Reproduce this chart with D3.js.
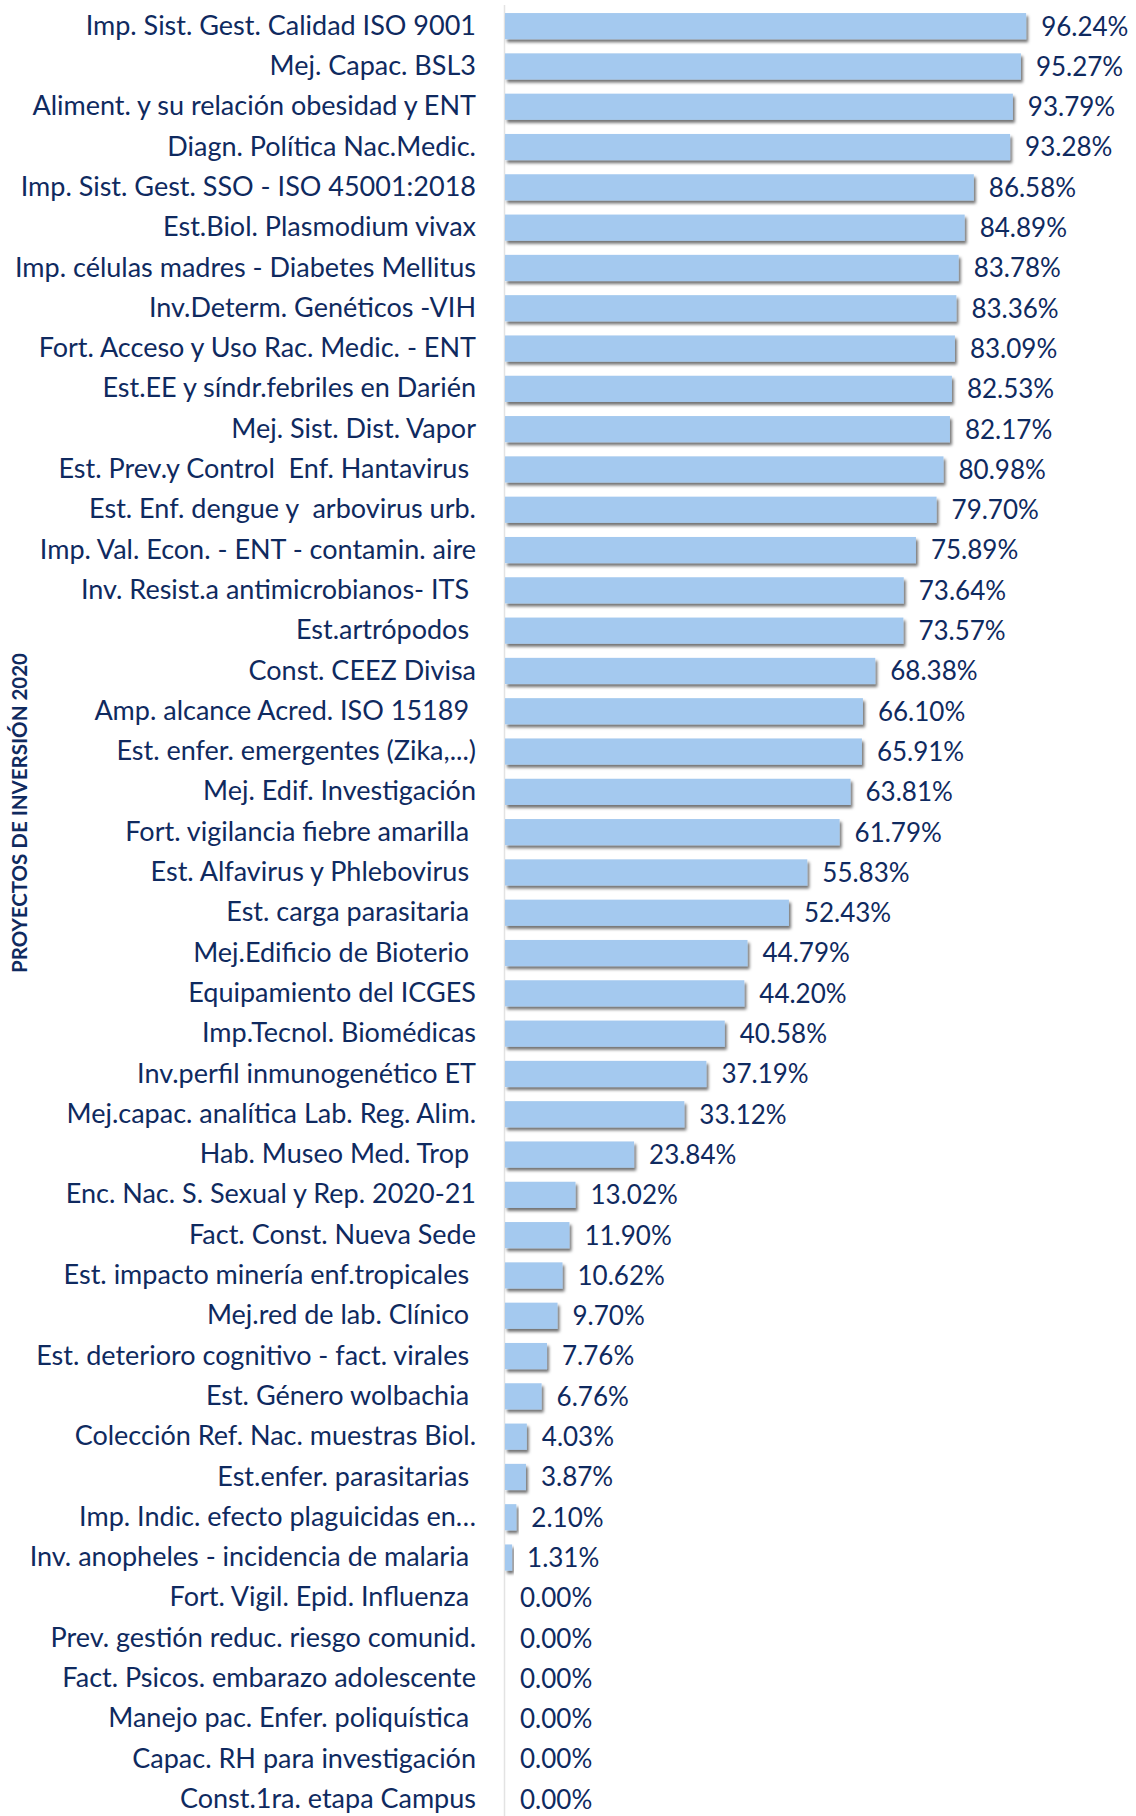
<!DOCTYPE html>
<html>
<head>
<meta charset="utf-8">
<script src="https://cdn.jsdelivr.net/npm/d3@7"></script>
<style>
  body { margin: 0; background: #fff; }
  text { font-family: Lato, "Open Sans", sans-serif; white-space: pre; }
</style>
</head>
<body>
<svg id="chart" width="1136" height="1816"></svg>
<script>
// project names (top to bottom), trailing spaces kept as in the source
const projects = [
  "Imp. Sist. Gest. Calidad ISO 9001",
  "Mej. Capac. BSL3",
  "Aliment. y su relación obesidad y ENT",
  "Diagn. Política Nac.Medic.",
  "Imp. Sist. Gest. SSO - ISO 45001:2018",
  "Est.Biol. Plasmodium vivax",
  "Imp. células madres - Diabetes Mellitus",
  "Inv.Determ. Genéticos -VIH",
  "Fort. Acceso y Uso Rac. Medic. - ENT",
  "Est.EE y síndr.febriles en Darién",
  "Mej. Sist. Dist. Vapor",
  "Est. Prev.y Control  Enf. Hantavirus ",
  "Est. Enf. dengue y  arbovirus urb.",
  "Imp. Val. Econ. - ENT - contamin. aire",
  "Inv. Resist.a antimicrobianos- ITS ",
  "Est.artrópodos ",
  "Const. CEEZ Divisa",
  "Amp. alcance Acred. ISO 15189 ",
  "Est. enfer. emergentes (Zika,...)",
  "Mej. Edif. Investigación",
  "Fort. vigilancia fiebre amarilla ",
  "Est. Alfavirus y Phlebovirus ",
  "Est. carga parasitaria ",
  "Mej.Edificio de Bioterio ",
  "Equipamiento del ICGES",
  "Imp.Tecnol. Biomédicas",
  "Inv.perfil inmunogenético ET",
  "Mej.capac. analítica Lab. Reg. Alim.",
  "Hab. Museo Med. Trop ",
  "Enc. Nac. S. Sexual y Rep. 2020-21",
  "Fact. Const. Nueva Sede",
  "Est. impacto minería enf.tropicales ",
  "Mej.red de lab. Clínico ",
  "Est. deterioro cognitivo - fact. virales ",
  "Est. Género wolbachia ",
  "Colección Ref. Nac. muestras Biol.",
  "Est.enfer. parasitarias ",
  "Imp. Indic. efecto plaguicidas en…",
  "Inv. anopheles - incidencia de malaria ",
  "Fort. Vigil. Epid. Influenza ",
  "Prev. gestión reduc. riesgo comunid.",
  "Fact. Psicos. embarazo adolescente",
  "Manejo pac. Enfer. poliquística ",
  "Capac. RH para investigación",
  "Const.1ra. etapa Campus"
];

// execution percentage
const execution = [
  96.24, 95.27, 93.79, 93.28, 86.58, 84.89, 83.78, 83.36, 83.09, 82.53,
  82.17, 80.98, 79.70, 75.89, 73.64, 73.57, 68.38, 66.10, 65.91, 63.81,
  61.79, 55.83, 52.43, 44.79, 44.20, 40.58, 37.19, 33.12, 23.84, 13.02,
  11.90, 10.62, 9.70, 7.76, 6.76, 4.03, 3.87, 2.10, 1.31, 0.00,
  0.00, 0.00, 0.00, 0.00, 0.00
];

const axisTitle = "PROYECTOS DE INVERSIÓN 2020";

const data = projects.map((p, i) => ({ name: p, value: execution[i] }));

const textColor = "#0f2a5f";
const barColor = "#a4c9ef";

const svg = d3.select("#chart");
const margin = { top: 6, left: 505 };

const x = d3.scaleLinear().domain([0, 100]).range([margin.left, margin.left + 541.5]);
const y = d3.scaleBand()
  .domain(data.map(d => d.name))
  .range([margin.top, margin.top + 40.3 * data.length])
  .paddingInner(0.35)
  .paddingOuter(0.175);

// drop shadow for the bars
const defs = svg.append("defs");
const shadow = defs.append("filter").attr("id", "shadow")
  .attr("x", "-10%").attr("y", "-30%").attr("width", "130%").attr("height", "180%");
shadow.append("feDropShadow")
  .attr("dx", 2).attr("dy", 3).attr("stdDeviation", 1.6)
  .attr("flood-color", "#000").attr("flood-opacity", 0.55);

// vertical axis line
svg.append("line")
  .attr("x1", x(0) - 0.5).attr("x2", x(0) - 0.5)
  .attr("y1", 5).attr("y2", 1816)
  .attr("stroke", "#e3e3e3").attr("stroke-width", 1.5);

// bars
svg.selectAll("rect.bar")
  .data(data.filter(d => d.value > 0))
  .enter()
  .append("rect")
  .attr("class", "bar")
  .attr("x", x(0))
  .attr("y", d => y(d.name))
  .attr("width", d => x(d.value) - x(0))
  .attr("height", y.bandwidth())
  .attr("fill", barColor)
  .attr("filter", "url(#shadow)");

// value labels
svg.selectAll("text.value")
  .data(data)
  .enter()
  .append("text")
  .attr("class", "value")
  .attr("x", d => x(d.value) + 15)
  .attr("y", d => y(d.name) + y.bandwidth() / 2)
  .attr("dy", "0.36em")
  .attr("fill", textColor)
  .style("font-size", "26px")
  .text(d => d.value.toFixed(2) + "%");

// category labels
const yAxis = d3.axisLeft(y).tickSize(0).tickPadding(29);
const gy = svg.append("g")
  .attr("transform", `translate(${x(0)},0)`)
  .call(yAxis);
gy.select(".domain").remove();
gy.selectAll("text")
  .attr("fill", textColor)
  .style("font-size", "27px")
  .style("font-family", "Lato, 'Open Sans', sans-serif");

// axis title
svg.append("text")
  .attr("transform", "translate(27,813) rotate(-90)")
  .attr("text-anchor", "middle")
  .attr("fill", textColor)
  .style("font-size", "20.5px")
  .style("font-weight", "bold")
  .text(axisTitle);
</script>
</body>
</html>
